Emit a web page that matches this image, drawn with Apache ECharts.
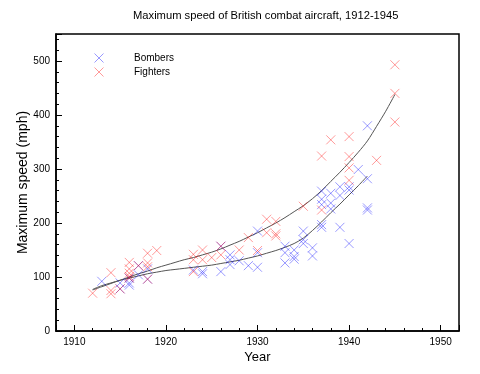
<!DOCTYPE html>
<html>
<head>
<meta charset="utf-8">
<script src="https://cdn.jsdelivr.net/npm/echarts@6/dist/echarts.min.js"></script>
<style>html,body{margin:0;padding:0;background:#fff;}#c{width:480px;height:374px;}</style>
</head>
<body>
<div id="c"></div>
<script>
// Bombers
const bomberYears  = [1913,1915,1915,1916,1916,1916,1917,1917,1918,1918,1923,1924,1924,1926,1926,1927,1927,1927,1928,1929,1930,1930,1930,1933,1933,1933,1934,1934,1934,1935,1935,1935,1936,1936,1937,1937,1937,1937,1937,1938,1938,1938,1939,1939,1939,1940,1940,1940,1941,1942,1942,1942,1942];
const bomberSpeeds = [92,89,78,89,85,98,121,104,115,96,113,110,106,157,110,141,132,123,130,121,185,145,118,157,145,126,150,138,133,185,169,162,154,139,259,244,234,197,192,255,237,226,267,251,192,267,261,162,299,380,282,228,224];
// Fighters
const fighterYears  = [1912,1914,1914,1914,1915,1916,1916,1916,1916,1916,1917,1918,1918,1918,1918,1919,1923,1923,1923,1924,1924,1925,1926,1926,1928,1929,1930,1931,1931,1932,1932,1932,1935,1937,1937,1938,1940,1940,1940,1940,1943,1945,1945,1945];
const fighterSpeeds = [70,108,75,69,78,127,115,107,101,98,121,144,126,119,96,149,142,132,110,150,132,136,157,141,150,173,149,207,182,203,180,176,231,324,224,354,360,323,302,279,316,493,440,387];
// Fitted curves (one value per year)
const fighterFitYears  = [1912,1913,1914,1915,1916,1917,1918,1919,1920,1921,1922,1923,1924,1925,1926,1927,1928,1929,1930,1931,1932,1933,1934,1935,1936,1937,1938,1939,1940,1941,1942,1943,1944,1945];
const fighterFitSpeeds = [76,82,88,94,100,106,111,117,122,127,132,136,141,146,152,159,166,174,182,191,200,210,221,232,245,260,277,294,312,331,352,379,407,438];
const bomberFitYears   = [1912,1913,1914,1915,1916,1917,1918,1919,1920,1921,1922,1923,1924,1925,1926,1927,1928,1929,1930,1931,1932,1933,1934,1935,1936,1937,1938,1939,1940,1941,1942];
const bomberFitSpeeds  = [77,84,89,94,98,102,106,109,112,114,116,118,120,122,125,128,131,135,139,144,149,155,162,172,186,202,219,235,252,269,287];

const seriesNames = ['Bombers','Fighters'];
const titleText = 'Maximum speed of British combat aircraft, 1912-1945';

const pairs = (xs, ys) => xs.map((x, i) => [x, ys[i]]);
const X = 'path://M0,0L10,10M10,0L0,10';
const FONT = 'Liberation Sans, Arial, Helvetica, sans-serif';

const chart = echarts.init(document.getElementById('c'), null, {renderer: 'canvas'});
chart.setOption({
  animation: false,
  backgroundColor: '#fff',
  title: {
    text: titleText, left: 133, top: 10, padding: 0,
    textStyle: {fontSize: 11.2, fontWeight: 'normal', color: '#000', fontFamily: FONT}
  },
  legend: {
    data: seriesNames, orient: 'vertical', left: 94, top: 53, padding: 0,
    itemWidth: 60, itemHeight: 9, itemGap: 4, symbolKeepAspect: true,
    itemStyle: {borderWidth: 1},
    textStyle: {fontSize: 10, color: '#000', fontFamily: FONT}
  },
  grid: {left: 56, right: 21, top: 34, bottom: 43, show: true, borderColor: '#000', borderWidth: 1.5, backgroundColor: 'transparent'},
  xAxis: {
    type: 'value', min: 1908, max: 1952,
    name: 'Year', nameLocation: 'middle', nameGap: 20, nameMoveOverlap: false,
    nameTextStyle: {fontSize: 13, color: '#000', fontFamily: FONT},
    axisLine: {show: true, lineStyle: {color: '#000', width: 1.5}},
    axisTick: {show: true, inside: true, length: 6, lineStyle: {color: '#000'}},
    minorTick: {show: true, splitNumber: 5, length: 3, lineStyle: {color: '#000'}},
    axisLabel: {showMinLabel: false, showMaxLabel: false, fontSize: 10, color: '#000', margin: 6, fontFamily: FONT,
      formatter: v => String(v)},
    splitLine: {show: false}
  },
  yAxis: {
    type: 'value', min: 0, max: 550, interval: 100,
    name: 'Maximum speed (mph)', nameLocation: 'middle', nameGap: 26, nameMoveOverlap: false,
    nameTextStyle: {fontSize: 14, color: '#000', fontFamily: FONT},
    axisLine: {show: true, lineStyle: {color: '#000', width: 1.5}},
    axisTick: {show: true, inside: true, length: 6, lineStyle: {color: '#000'}},
    minorTick: {show: true, splitNumber: 5, length: 3, lineStyle: {color: '#000'}},
    axisLabel: {showMaxLabel: false, fontSize: 10, color: '#000', margin: 6, fontFamily: FONT,
      formatter: v => String(v)},
    splitLine: {show: false}
  },
  series: [
    {
      name: 'Bombers', type: 'scatter', symbol: X, symbolSize: 9,
      itemStyle: {color: 'transparent', borderColor: 'rgba(0,0,255,0.5)', borderWidth: 1},
      emphasis: {disabled: true},
      data: pairs(bomberYears, bomberSpeeds)
    },
    {
      name: 'Fighters', type: 'scatter', symbol: X, symbolSize: 9,
      itemStyle: {color: 'transparent', borderColor: 'rgba(255,0,0,0.5)', borderWidth: 1},
      emphasis: {disabled: true},
      data: pairs(fighterYears, fighterSpeeds)
    },
    {
      name: 'Fighter fit', type: 'line', smooth: 0.3, showSymbol: false, silent: true,
      lineStyle: {color: '#555', width: 1}, z: 1,
      data: pairs(fighterFitYears, fighterFitSpeeds)
    },
    {
      name: 'Bomber fit', type: 'line', smooth: 0.3, showSymbol: false, silent: true,
      lineStyle: {color: '#555', width: 1}, z: 1,
      data: pairs(bomberFitYears, bomberFitSpeeds)
    }
  ]
});
</script>
</body>
</html>
